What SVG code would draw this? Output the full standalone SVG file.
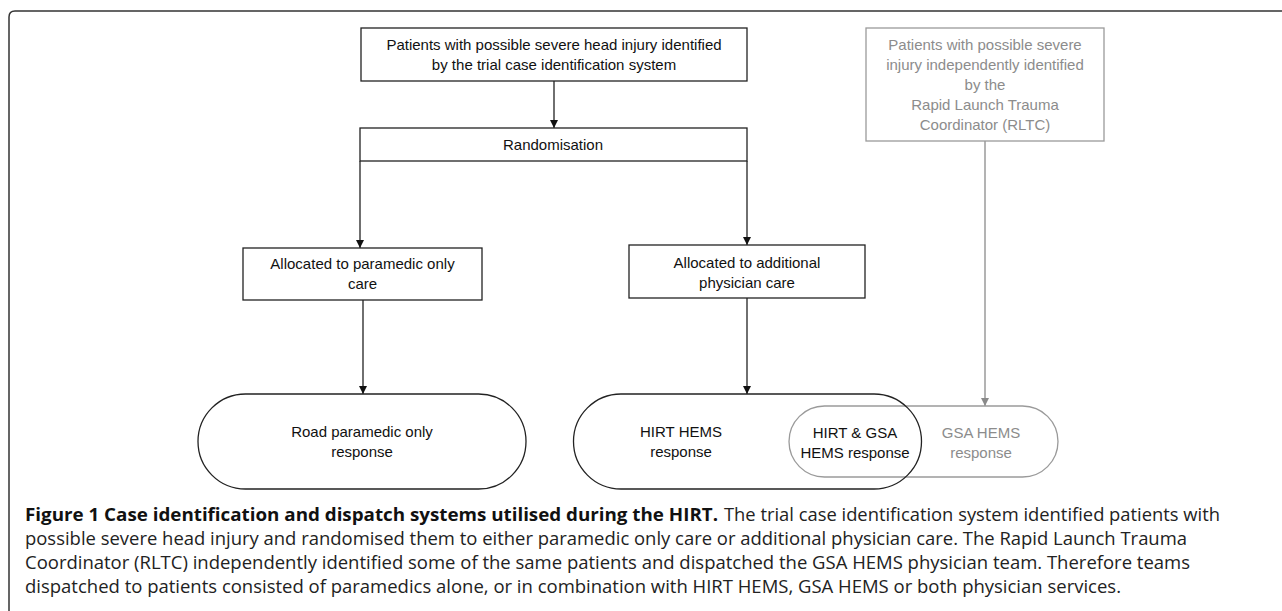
<svg xmlns="http://www.w3.org/2000/svg" width="1282" height="611" viewBox="0 0 1282 611">
<style>
.bx{fill:#fff;stroke:#222;stroke-width:1.3}
.gbx{fill:none;stroke:#9a9a9a;stroke-width:1.3}
.ln{fill:none;stroke:#222;stroke-width:1.3}
.gln{fill:none;stroke:#8a8a8a;stroke-width:1.3}
.t{font-family:"Liberation Sans",Arial,sans-serif;font-size:15px;fill:#111;text-anchor:middle}
.gt{font-family:"Liberation Sans",Arial,sans-serif;font-size:15px;fill:#8c8c8c;text-anchor:middle}
.cap{font-family:"Open Sans",sans-serif;font-size:17.5px;fill:#222}
.capb{font-family:"Open Sans",sans-serif;font-size:17.5px;font-weight:bold;fill:#111}
</style>
<defs>
<marker id="ah" viewBox="0 0 10 10" refX="10" refY="5" markerWidth="8" markerHeight="8" markerUnits="userSpaceOnUse" orient="auto"><path d="M0,0 L10,5 L0,10 z" fill="#111"/></marker>
<marker id="gah" viewBox="0 0 10 10" refX="10" refY="5" markerWidth="8" markerHeight="8" markerUnits="userSpaceOnUse" orient="auto"><path d="M0,0 L10,5 L0,10 z" fill="#8a8a8a"/></marker>
</defs>
<rect width="1282" height="611" fill="#fff"/>
<path d="M9,611 V17 Q9,11 15,11 H1282" fill="none" stroke="#333" stroke-width="1.5"/>

<g id="connectors">
<line class="ln" x1="554" y1="81" x2="554" y2="128" marker-end="url(#ah)"/>
<line class="ln" x1="360" y1="161" x2="360" y2="248" marker-end="url(#ah)"/>
<line class="ln" x1="747" y1="161" x2="747" y2="245" marker-end="url(#ah)"/>
<line class="ln" x1="363" y1="300" x2="363" y2="394" marker-end="url(#ah)"/>
<line class="ln" x1="747" y1="298" x2="747" y2="394" marker-end="url(#ah)"/>
<line class="gln" x1="985" y1="141" x2="985" y2="406" marker-end="url(#gah)"/>
</g>

<g id="top">
<rect class="bx" x="361" y="28" width="386" height="53"/>
<text class="t" x="554" y="50">Patients with possible severe head injury identified</text>
<text class="t" x="554" y="70">by the trial case identification system</text>
</g>

<g id="rltc">
<rect class="gbx" x="866" y="28" width="238" height="113"/>
<text class="gt" x="985" y="50">Patients with possible severe</text>
<text class="gt" x="985" y="70">injury independently identified</text>
<text class="gt" x="985" y="90">by the</text>
<text class="gt" x="985" y="110">Rapid Launch Trauma</text>
<text class="gt" x="985" y="130">Coordinator (RLTC)</text>
</g>

<g id="randomisation">
<rect class="bx" x="360" y="128" width="387" height="33"/>
<text class="t" x="553" y="150">Randomisation</text>
</g>

<g id="alloc-paramedic">
<rect class="bx" x="243" y="248" width="239" height="52"/>
<text class="t" x="362.5" y="269">Allocated to paramedic only</text>
<text class="t" x="362.5" y="289">care</text>
</g>

<g id="alloc-physician">
<rect class="bx" x="629" y="245" width="236" height="53"/>
<text class="t" x="747" y="268">Allocated to additional</text>
<text class="t" x="747" y="288">physician care</text>
</g>

<g id="road">
<rect class="bx" x="198" y="394" width="328" height="95" rx="47.5" ry="47.5"/>
<text class="t" x="362" y="437">Road paramedic only</text>
<text class="t" x="362" y="457">response</text>
</g>

<g id="gsa">
<rect class="gbx" x="789" y="406" width="269" height="71" rx="35.5" ry="35.5"/>
<text class="gt" x="981" y="438">GSA HEMS</text>
<text class="gt" x="981" y="458">response</text>
</g>

<g id="hirt">
<rect x="573.5" y="394" width="348" height="95" rx="47.5" ry="47.5" fill="none" stroke="#222" stroke-width="1.3"/>
<text class="t" x="681" y="437">HIRT HEMS</text>
<text class="t" x="681" y="457">response</text>
</g>

<g id="hirt-gsa">
<text class="t" x="855" y="438">HIRT &amp; GSA</text>
<text class="t" x="855" y="458">HEMS response</text>
</g>

<g id="caption">
<text class="capb" x="25" y="521" textLength="693" lengthAdjust="spacingAndGlyphs">Figure 1 Case identification and dispatch systems utilised during the HIRT.</text>
<text class="cap" x="724" y="521" textLength="496" lengthAdjust="spacingAndGlyphs">The trial case identification system identified patients with</text>
<text class="cap" x="25" y="545" textLength="1162" lengthAdjust="spacingAndGlyphs">possible severe head injury and randomised them to either paramedic only care or additional physician care. The Rapid Launch Trauma</text>
<text class="cap" x="25" y="569" textLength="1165" lengthAdjust="spacingAndGlyphs">Coordinator (RLTC) independently identified some of the same patients and dispatched the GSA HEMS physician team. Therefore teams</text>
<text class="cap" x="25" y="593" textLength="1096" lengthAdjust="spacingAndGlyphs">dispatched to patients consisted of paramedics alone, or in combination with HIRT HEMS, GSA HEMS or both physician services.</text>
</g>
</svg>
